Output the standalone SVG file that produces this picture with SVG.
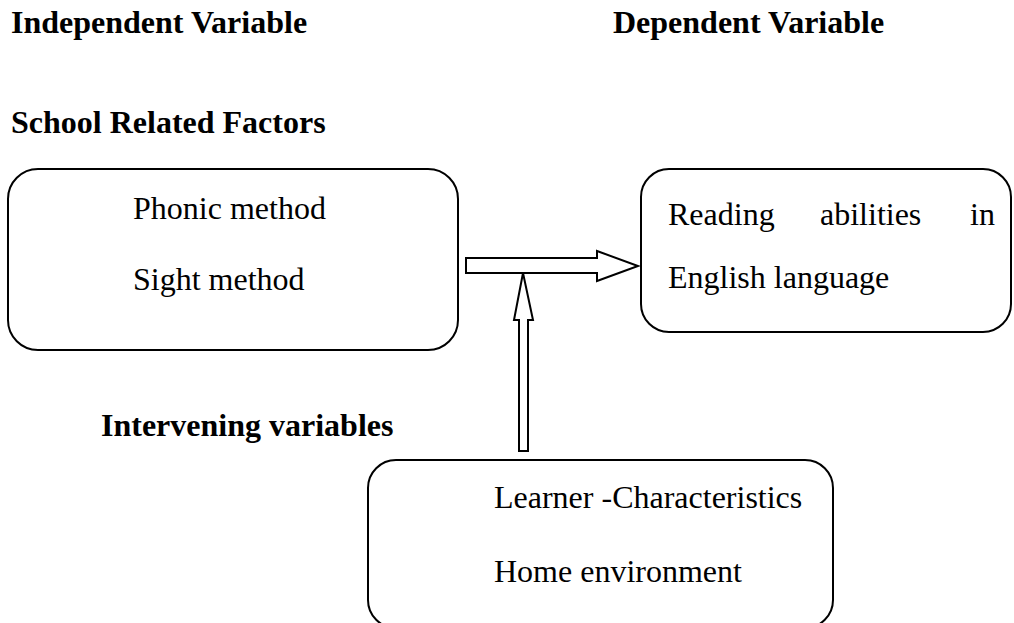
<svg xmlns="http://www.w3.org/2000/svg" width="1014" height="623" viewBox="0 0 1014 623">
<style>
.h{font-family:"Liberation Serif","Times New Roman",serif;font-weight:bold;font-size:32px;fill:#000}
.t{font-family:"Liberation Serif","Times New Roman",serif;font-size:32px;fill:#000}
.box{fill:#fff;stroke:#000;stroke-width:2}
.arr{fill:#fff;stroke:#000;stroke-width:2;stroke-linejoin:miter}
</style>
<rect width="1014" height="623" fill="#fff"/>
<g id="labels">
<text class="h" x="11" y="33">Independent Variable</text>
<text class="h" x="613" y="33">Dependent Variable</text>
<text class="h" x="11" y="133">School Related Factors</text>
<text class="h" x="101" y="436">Intervening variables</text>
</g>
<g id="node-school">
<rect class="box" x="8" y="169" width="450" height="181" rx="30" ry="30"/>
<text class="t" x="133" y="219">Phonic method</text>
<text class="t" x="133" y="290">Sight method</text>
</g>
<g id="node-reading">
<rect class="box" x="641" y="169" width="370" height="163" rx="28" ry="28"/>
<text class="t" x="668" y="225">Reading</text>
<text class="t" x="820" y="225">abilities</text>
<text class="t" x="970" y="225">in</text>
<text class="t" x="668" y="288">English language</text>
</g>
<g id="node-intervening">
<rect class="box" x="368" y="460" width="465" height="168" rx="28" ry="28"/>
<text class="t" x="494" y="508">Learner -Characteristics</text>
<text class="t" x="494" y="582">Home environment</text>
</g>
<g id="connectors">
<polygon class="arr" points="466,258 597,258 597,251 638,266 597,281 597,273 466,273"/>
<polygon class="arr" points="519,451 519,320 514,320 523,273 533,320 528,320 528,451"/>
</g>
</svg>
